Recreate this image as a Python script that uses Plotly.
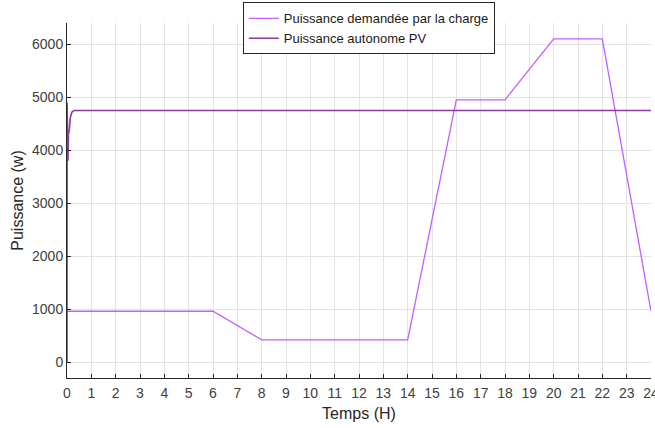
import plotly.graph_objects as go

# Load demand profile over the day (hours, watts)
load_time = [0, 6, 8, 14, 16, 18, 20, 22, 24]
load_power = [960, 960, 420, 420, 4950, 4950, 6100, 6100, 960]

# Stand-alone PV output: start-up transient then steady level
pv_time = [0, 0.005, 0.04, 0.06, 0.1, 0.13, 0.2, 0.3, 24]
pv_power = [0, 4900, 3800, 4300, 4400, 4600, 4720, 4750, 4750]

x_ticks = list(range(0, 25))
y_ticks = [0, 1000, 2000, 3000, 4000, 5000, 6000]

FONT = "Liberation Sans, Arial, sans-serif"
AXIS_COLOR = "#262626"
TICK_FONT_COLOR = "#404040"
GRID_COLOR = "#E3E3E3"

fig = go.Figure()
fig.add_trace(go.Scatter(
    x=load_time, y=load_power, mode="lines",
    name="Puissance demandée par la charge",
    line=dict(color="#C060FF", width=1.3),
))
fig.add_trace(go.Scatter(
    x=pv_time, y=pv_power, mode="lines",
    name="Puissance autonome PV",
    line=dict(color="#8A3A9E", width=1.6),
))

fig.update_layout(
    width=655, height=428,
    margin=dict(l=67, r=4, t=23, b=50, autoexpand=False),
    paper_bgcolor="white", plot_bgcolor="white",
    font=dict(family=FONT, color=TICK_FONT_COLOR),
    showlegend=True,
    legend=dict(
        x=0.301, y=1.058, xanchor="left", yanchor="top",
        bgcolor="white", bordercolor=AXIS_COLOR, borderwidth=1,
        font=dict(family=FONT, size=13, color="#1A1A1A"),
        tracegroupgap=0, itemwidth=30,
    ),
    xaxis=dict(
        range=[0, 24], tickvals=x_ticks, ticktext=[str(v) for v in x_ticks],
        showgrid=True, gridcolor=GRID_COLOR, gridwidth=1,
        showline=True, linecolor=AXIS_COLOR, linewidth=1,
        ticks="inside", ticklen=4, tickcolor=AXIS_COLOR,
        tickfont=dict(size=14, color=TICK_FONT_COLOR),
        ticklabeloverflow="allow", ticklabelstandoff=2,
        automargin=False, zeroline=False,
        title=dict(text="Temps (H)", font=dict(size=16, color="#262626"), standoff=8),
    ),
    yaxis=dict(
        range=[-300, 6400], tickvals=y_ticks, ticktext=[str(v) for v in y_ticks],
        showgrid=True, gridcolor=GRID_COLOR, gridwidth=1,
        showline=True, linecolor=AXIS_COLOR, linewidth=1,
        ticks="inside", ticklen=4, tickcolor=AXIS_COLOR,
        tickfont=dict(size=14, color=TICK_FONT_COLOR),
        automargin=False, zeroline=False,
        title=dict(text="Puissance (w)", font=dict(size=16, color="#262626"), standoff=4),
    ),
)

fig.write_html("out.html")
